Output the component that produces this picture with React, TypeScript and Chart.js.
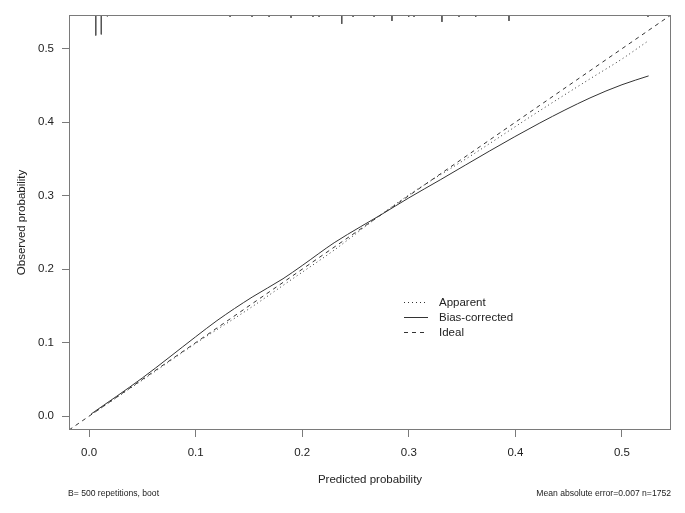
import React, { useEffect, useRef } from "react";
import { Chart, registerables } from "chart.js";

Chart.register(...registerables);

// ---- data ----
const X_MIN = -0.0188;
const X_MAX = 0.546;
const Y_MIN = -0.0188;
const Y_MAX = 0.546;
const xTicks = [0, 0.1, 0.2, 0.3, 0.4, 0.5];
const yTicks = [0, 0.1, 0.2, 0.3, 0.4, 0.5];

const apparentX = [0.002, 0.05, 0.1, 0.15, 0.19, 0.23, 0.27, 0.3, 0.36, 0.42, 0.47, 0.5, 0.523];
const apparentY = [0.002, 0.049, 0.099, 0.146, 0.186, 0.226, 0.27, 0.301, 0.356, 0.413, 0.459, 0.486, 0.509];

const biasX = [0.002, 0.05, 0.1, 0.12, 0.153, 0.182, 0.2, 0.23, 0.255, 0.275, 0.3, 0.33, 0.376, 0.423, 0.47, 0.5, 0.525];
const biasY = [0.003, 0.052, 0.108, 0.13, 0.162, 0.187, 0.205, 0.236, 0.258, 0.275, 0.297, 0.322, 0.361, 0.399, 0.433, 0.451, 0.463];

const idealX = [X_MIN, X_MAX];
const idealY = [Y_MIN, Y_MAX];

// rug (distribution of predicted probabilities) drawn down from the top
const rugX = [0.0063, 0.0115, 0.0172, 0.1163, 0.1323, 0.1529, 0.1689, 0.1895, 0.2101, 0.2158, 0.2317, 0.2371, 0.2477, 0.2627, 0.2674, 0.2842, 0.2999, 0.3049, 0.3265, 0.3311, 0.3471, 0.3628, 0.394, 0.4097, 0.4622, 0.5244];
const rugLen = [0.028, 0.0265, 0.002, 0.0014, 0.0027, 0.0027, 0.0027, 0.004, 0.0027, 0.0027, 0.0014, 0.0122, 0.0027, 0.0014, 0.0027, 0.0082, 0.0027, 0.0027, 0.0014, 0.0095, 0.0027, 0.0027, 0.0082, 0.0014, 0.0014, 0.0027];

const seriesLabels = ["Apparent", "Bias-corrected", "Ideal"];
const noteLeft = "B= 500 repetitions, boot";
const noteRight = "Mean absolute error=0.007 n=1752";
const xTitle = "Predicted probability";
const yTitle = "Observed probability";

// ---- styles ----
const FONT = "'Liberation Sans', Arial, sans-serif";
const TEXT = "#222222";
const FRAME = "#7a7a7a";
const LINE = "#333333";
const LEGEND_X = 0.2955;
const LEGEND_Y = 0.155;

const pts = (xs: number[], ys: number[]) => xs.map((x, i) => ({ x, y: ys[i] }));

export default function App() {
  const ref = useRef<HTMLCanvasElement | null>(null);

  useEffect(() => {
    document.body.style.margin = "0";
    const canvas = ref.current;
    if (!canvas) return;

    const rugData: any[] = [];
    rugX.forEach((x, i) => {
      rugData.push({ x, y: Y_MAX });
      rugData.push({ x, y: Y_MAX - rugLen[i] });
      rugData.push({ x, y: null });
    });

    const framePlugin = {
      id: "frame",
      afterDatasetsDraw(chart: any) {
        const { ctx, chartArea } = chart;
        const l = Math.round(chartArea.left) + 0.5;
        const t = Math.round(chartArea.top) + 0.5;
        const r = Math.round(chartArea.right) - 0.5;
        const b = Math.round(chartArea.bottom) - 0.5;
        ctx.save();
        ctx.strokeStyle = FRAME;
        ctx.lineWidth = 1;
        ctx.strokeRect(l, t, r - l, b - t);
        ctx.restore();
      },
    };

    const legendPlugin = {
      id: "innerLegend",
      afterDraw(chart: any) {
        const { ctx } = chart;
        const xs = chart.scales.x;
        const ys = chart.scales.y;
        const x0 = xs.getPixelForValue(LEGEND_X);
        const y0 = ys.getPixelForValue(LEGEND_Y);
        ctx.save();
        ctx.font = `11.5px ${FONT}`;
        ctx.textBaseline = "middle";
        ctx.textAlign = "left";
        const items = chart.data.datasets.filter((d: any) => d.inLegend);
        items.forEach((d: any, i: number) => {
          const y = Math.round(y0 + i * 15) + 0.5;
          ctx.strokeStyle = d.borderColor;
          ctx.lineWidth = d.borderWidth;
          ctx.setLineDash(d.borderDash || []);
          ctx.beginPath();
          ctx.moveTo(x0, y);
          ctx.lineTo(x0 + 24, y);
          ctx.stroke();
          ctx.setLineDash([]);
          ctx.fillStyle = TEXT;
          ctx.fillText(d.label, x0 + 35, y);
        });
        ctx.restore();
      },
    };

    const notesPlugin = {
      id: "notes",
      afterDraw(chart: any) {
        const { ctx, chartArea } = chart;
        ctx.save();
        ctx.font = `8.6px ${FONT}`;
        ctx.fillStyle = TEXT;
        ctx.textBaseline = "middle";
        ctx.textAlign = "left";
        ctx.fillText(noteLeft, chartArea.left - 1, 494);
        ctx.textAlign = "right";
        ctx.fillText(noteRight, chartArea.right, 494);
        ctx.restore();
      },
    };

    const chart = new Chart(canvas, {
      type: "scatter",
      data: {
        datasets: [
          {
            label: seriesLabels[0],
            data: pts(apparentX, apparentY),
            showLine: true,
            borderColor: LINE,
            borderWidth: 1,
            borderDash: [1, 3],
            pointRadius: 0,
            cubicInterpolationMode: "monotone",
            inLegend: true,
          } as any,
          {
            label: seriesLabels[1],
            data: pts(biasX, biasY),
            showLine: true,
            borderColor: LINE,
            borderWidth: 1,
            borderDash: [],
            pointRadius: 0,
            cubicInterpolationMode: "monotone",
            inLegend: true,
          } as any,
          {
            label: seriesLabels[2],
            data: pts(idealX, idealY),
            showLine: true,
            borderColor: LINE,
            borderWidth: 1,
            borderDash: [4, 4],
            pointRadius: 0,
            inLegend: true,
          } as any,
          {
            label: "rug",
            data: rugData,
            showLine: true,
            spanGaps: false,
            borderColor: "#555555",
            borderWidth: 1,
            pointRadius: 0,
            inLegend: false,
          } as any,
        ],
      },
      options: {
        animation: false,
        responsive: false,
        maintainAspectRatio: false,
        events: [],
        layout: { padding: { top: 14, right: 14, left: 0, bottom: 0 } },
        plugins: {
          legend: { display: false },
          tooltip: { enabled: false },
        },
        scales: {
          x: {
            type: "linear",
            min: X_MIN,
            max: X_MAX,
            afterBuildTicks: (s: any) => {
              s.ticks = xTicks.map((v) => ({ value: v }));
            },
            afterFit: (s: any) => {
              s.height = 83;
            },
            grid: { drawOnChartArea: false, drawTicks: true, tickLength: 7, color: FRAME, lineWidth: 1 },
            border: { display: false },
            ticks: {
              padding: 9,
              color: TEXT,
              font: { family: FONT, size: 11.5 },
              maxRotation: 0,
              autoSkip: false,
              callback: (v: any) => Number(v).toFixed(1),
            },
            title: {
              display: true,
              text: xTitle,
              color: TEXT,
              font: { family: FONT, size: 11.5 },
              padding: { top: 0, bottom: 26 },
            },
          },
          y: {
            type: "linear",
            min: Y_MIN,
            max: Y_MAX,
            afterBuildTicks: (s: any) => {
              s.ticks = yTicks.map((v) => ({ value: v }));
            },
            afterFit: (s: any) => {
              s.width = 69;
            },
            grid: { drawOnChartArea: false, drawTicks: true, tickLength: 7, color: FRAME, lineWidth: 1 },
            border: { display: false },
            ticks: {
              padding: 8,
              color: TEXT,
              font: { family: FONT, size: 11.5 },
              autoSkip: false,
              callback: (v: any) => Number(v).toFixed(1),
            },
            title: {
              display: true,
              text: yTitle,
              color: TEXT,
              font: { family: FONT, size: 11.5 },
              padding: { top: 15, bottom: 0 },
            },
          },
        },
      },
      plugins: [framePlugin, legendPlugin, notesPlugin],
    });

    return () => {
      chart.destroy();
    };
  }, []);

  return (
    <div style={{ width: 685, height: 513, background: "#ffffff" }}>
      <canvas ref={ref} width={685} height={513} style={{ display: "block" }} />
    </div>
  );
}
